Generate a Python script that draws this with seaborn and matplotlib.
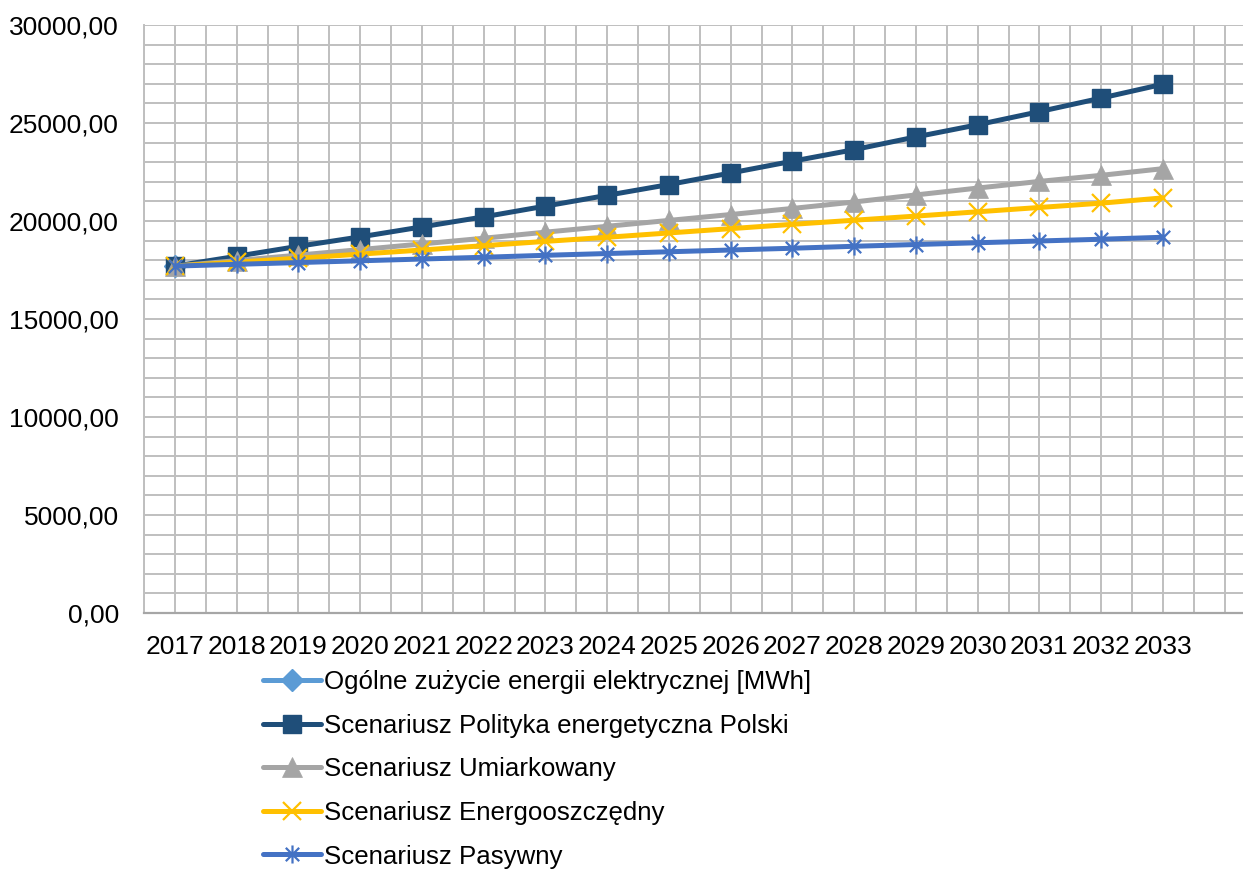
import matplotlib
matplotlib.use("Agg")
import matplotlib.pyplot as plt
from matplotlib.path import Path
from matplotlib.ticker import MultipleLocator, FixedLocator, FuncFormatter
import seaborn as sns
import pandas as pd

# Prognoza zużycia energii elektrycznej [MWh] wg scenariuszy
years = [2017, 2018, 2019, 2020, 2021, 2022, 2023, 2024, 2025,
         2026, 2027, 2028, 2029, 2030, 2031, 2032, 2033]

ogolne_years = [2017]
ogolne = [17700]

polityka = [17700, 18200, 18710, 19190, 19700, 20210, 20760, 21310, 21860,
            22450, 23050, 23640, 24290, 24910, 25580, 26270, 26980]
umiarkowany = [17700, 17980, 18260, 18540, 18830, 19120, 19430, 19730, 20030,
               20330, 20640, 20970, 21330, 21680, 22020, 22330, 22670]
energooszczedny = [17700, 17900, 18100, 18310, 18520, 18740, 18960, 19170, 19390,
                   19610, 19830, 20040, 20250, 20470, 20690, 20910, 21180]
pasywny = [17700, 17790, 17880, 17970, 18060, 18150, 18250, 18340, 18430,
           18520, 18610, 18710, 18800, 18890, 18980, 19070, 19170]

labels = [
    "Ogólne zużycie energii elektrycznej [MWh]",
    "Scenariusz Polityka energetyczna Polski",
    "Scenariusz Umiarkowany",
    "Scenariusz Energooszczędny",
    "Scenariusz Pasywny",
]
colors = ["#5B9BD5", "#1F4E79", "#A5A5A5", "#FFC000", "#4472C4"]

# asterisk marker: two diagonals plus a vertical stroke
asterisk = Path(
    [(-1, -1), (1, 1), (-1, 1), (1, -1), (0, -1.35), (0, 1.35)],
    [Path.MOVETO, Path.LINETO, Path.MOVETO, Path.LINETO, Path.MOVETO, Path.LINETO],
)

sns.set_theme(style="white")
plt.rcParams["font.family"] = ["Liberation Sans", "DejaVu Sans"]
FS = 19.0

fig = plt.figure(figsize=(12.43, 8.71), dpi=100)
W, H = 1243, 871
ax = fig.add_axes([144 / W, (H - 613) / H, 1111.5 / W, 588 / H])

series = [
    (ogolne_years, ogolne, dict(marker="D", markersize=11, markeredgewidth=1,
                                markeredgecolor=colors[0], markerfacecolor=colors[0])),
    (years, polityka, dict(marker="s", markersize=13.5, markeredgewidth=1,
                           markeredgecolor=colors[1], markerfacecolor=colors[1])),
    (years, umiarkowany, dict(marker="^", markersize=14, markeredgewidth=0.5,
                              markeredgecolor=colors[2], markerfacecolor=colors[2])),
    (years, energooszczedny, dict(marker="x", markersize=13, markeredgewidth=1.6,
                                  markeredgecolor=colors[3])),
    (years, pasywny, dict(marker=asterisk, markersize=13, markeredgewidth=1.6,
                          markeredgecolor=colors[4], markerfacecolor="none")),
]

for (xs, ys, mkw), lab, col in zip(series, labels, colors):
    df = pd.DataFrame({"rok": xs, "wartosc": ys})
    sns.lineplot(data=df, x="rok", y="wartosc", ax=ax, color=col, linewidth=3.6,
                 label=lab, **mkw)

ax.set_xlim(2016.5, 2034.5)
ax.set_ylim(0, 30000)
ax.xaxis.set_major_locator(FixedLocator(years))
ax.xaxis.set_minor_locator(MultipleLocator(0.5))
ax.yaxis.set_major_locator(MultipleLocator(5000))
ax.yaxis.set_minor_locator(MultipleLocator(1000))
ax.yaxis.set_major_formatter(FuncFormatter(lambda v, p: f"{v:.2f}".replace(".", ",")))
ax.set_xticklabels([str(y) for y in years])

ax.grid(True, which="both", color="#BFBFBF", linewidth=1.4)
ax.set_axisbelow(True)
ax.tick_params(axis="both", which="both", length=0, labelsize=FS, colors="#000000")
ax.tick_params(axis="x", pad=16)
ax.tick_params(axis="y", pad=18)
ax.set_xlabel("")
ax.set_ylabel("")

for s in ["top", "right"]:
    ax.spines[s].set_visible(False)
ax.spines["left"].set_color("#BFBFBF")
ax.spines["left"].set_linewidth(1.4)
ax.spines["bottom"].set_color("#A6A6A6")
ax.spines["bottom"].set_linewidth(1.6)

handles, labs = ax.get_legend_handles_labels()
ax.legend(handles, labs, loc="upper left", bbox_to_anchor=(263 / W, (H - 670) / H),
          bbox_transform=fig.transFigure, frameon=False, fontsize=18.6,
          labelcolor="#000000", handlelength=2.25, handletextpad=0.1,
          labelspacing=0.76, borderpad=0, borderaxespad=0)

fig.savefig("out.png", dpi=100)
